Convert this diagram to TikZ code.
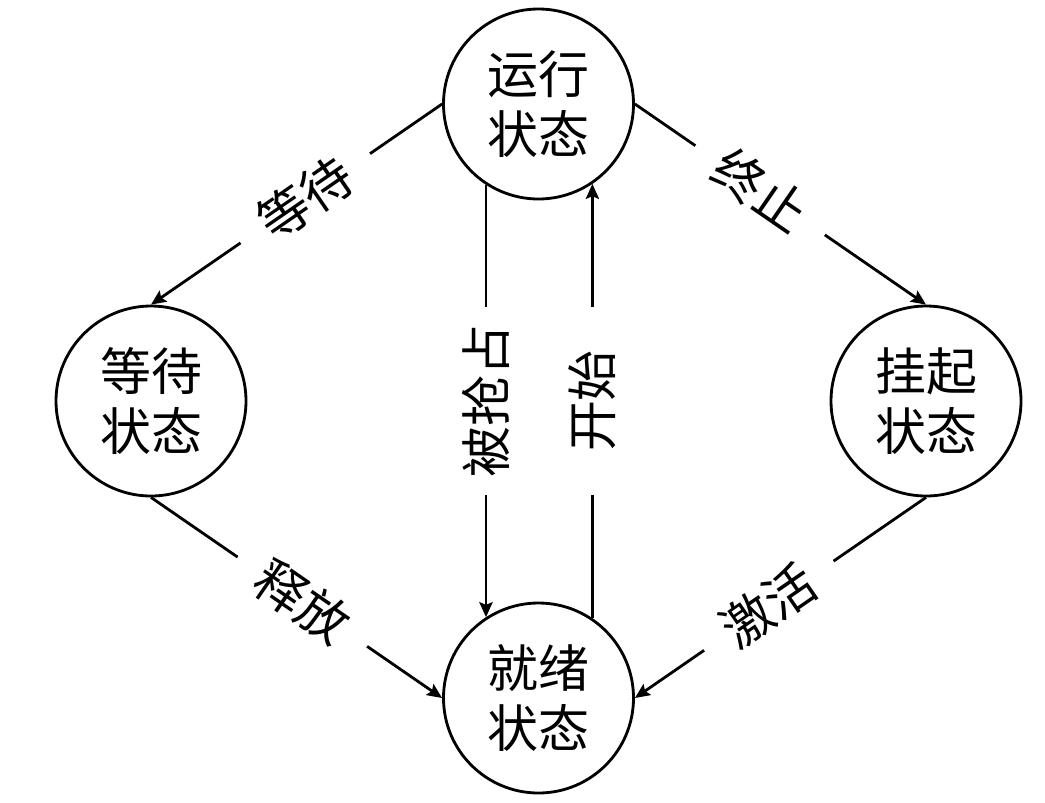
\documentclass[tikz,border=0pt]{standalone}
\usepackage{fontspec}
\newfontfamily\cjk{Noto Sans CJK SC}
\usetikzlibrary{arrows.meta}

\begin{document}
\begin{tikzpicture}
\tikzstyle{state}=[circle, draw=black, line width=1.6pt, minimum size=3.8cm, inner sep=0pt, align=center, font=\cjk\fontsize{29}{34}\selectfont]
\tikzstyle{trans}=[line width=1.6pt, -{Stealth[length=8.5pt, width=7.5pt, inset=1.5pt]}]
\tikzstyle{act}=[fill=white, sloped, inner ysep=2pt, minimum width=3.14cm, font=\cjk\fontsize{29}{34}\selectfont]
\tikzstyle{vact}=[fill=white, rotate=90, inner ysep=2pt, minimum width=3.76cm, font=\cjk\fontsize{29}{34}\selectfont]
\useasboundingbox (0,0) rectangle (20.9,-16.04);
%\draw[gray] (0,0) grid (20,-16);

\node [state] (run) at (10.77,-2.08) {运行\\状态};
\node [state] (wait) at (3.02,-8.02) {等待\\状态};
\node [state] (hang) at (18.52,-8.02) {挂起\\状态};
\node [state] (ready) at (10.77,-13.96) {就绪\\状态};

\draw [trans] (run.west) -- node[act, pos=0.47] (lwait) {等待} (wait.north);
\draw [trans] (run.east) -- node[act, pos=0.43] (lstop) {终止} (hang.north);
\draw [trans] (wait.south) -- node[act, pos=0.52] (lfree) {释放} (ready.west);
\draw [trans] (hang.south) -- node[act, pos=0.54] (lwake) {激活} (ready.east);

\draw [trans] (run.-123.5) -- node[vact] (lpre) {被抢占} (ready.123.5);
\draw [trans] (ready.56.5) -- node[vact] (lgo) {开始} (run.-56.5);

\end{tikzpicture}
\end{document}
